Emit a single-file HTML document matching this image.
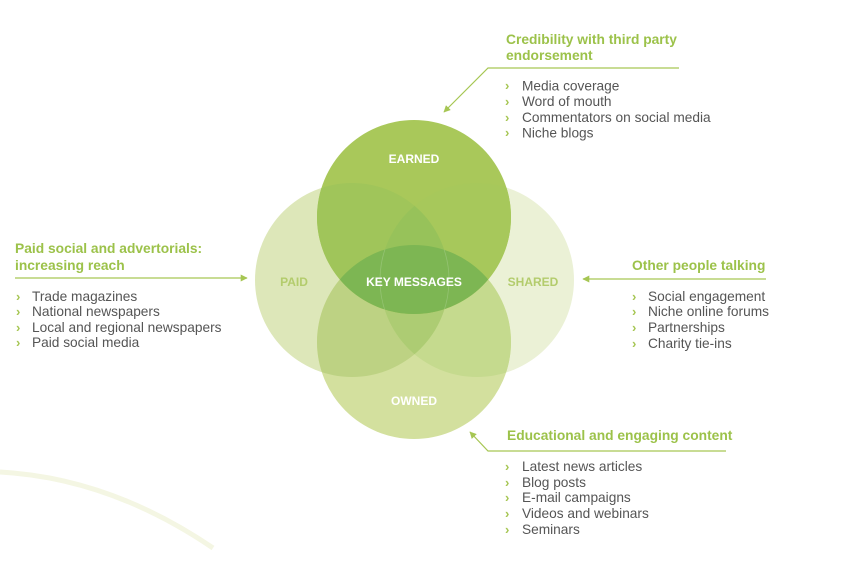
<!DOCTYPE html>
<html>
<head>
<meta charset="utf-8">
<style>
  html, body { margin:0; padding:0; background:#ffffff; }
  body { width:845px; height:573px; overflow:hidden; }
  svg { display:block; }
  .h { font-family:"Liberation Sans", sans-serif; font-weight:bold; font-size:13.8px; fill:#9cc24a; }
  .li { font-family:"Liberation Sans", sans-serif; font-size:13.7px; fill:#555555; }
  .bu { font-family:"Liberation Sans", sans-serif; font-size:13px; font-weight:bold; fill:#a6c653; }
  .lbl { font-family:"Liberation Sans", sans-serif; font-weight:bold; font-size:12px; fill:#ffffff; text-anchor:middle; }
  .lblg { font-family:"Liberation Sans", sans-serif; font-weight:bold; font-size:12px; fill:#b3cc6c; text-anchor:middle; }
</style>
</head>
<body>
<svg width="845" height="573" viewBox="0 0 845 573" xmlns="http://www.w3.org/2000/svg">
  <defs>
    <clipPath id="cE"><circle cx="414" cy="217" r="97"/></clipPath>
    <clipPath id="cP"><circle cx="352" cy="280" r="97"/></clipPath>
    <clipPath id="cS"><circle cx="477" cy="280" r="97"/></clipPath>
    <clipPath id="cO"><circle cx="414" cy="342" r="97"/></clipPath>
    <marker id="ah" viewBox="0 0 10 10" refX="9" refY="5" markerWidth="7" markerHeight="7" orient="auto" markerUnits="userSpaceOnUse">
      <path d="M0,0 L10,5 L0,10 Z" fill="#a6c653"/>
    </marker>
  </defs>

  <!-- decorative arc -->
  <path d="M0,472 Q110,478 213,548" fill="none" stroke="#f4f6e3" stroke-width="5" stroke-linecap="butt"/>

  <!-- base circles -->
  <circle cx="352" cy="280" r="97" fill="#dde7b9"/>
  <circle cx="477" cy="280" r="97" fill="#ebf1d6"/>
  <circle cx="414" cy="342" r="97" fill="#d3e09e"/>

  <!-- owned overlaps -->
  <g clip-path="url(#cO)">
    <circle cx="352" cy="280" r="97" fill="#bdd283"/>
    <circle cx="477" cy="280" r="97" fill="#c5da8e"/>
    <g clip-path="url(#cP)">
      <circle cx="477" cy="280" r="97" fill="#adcc73"/>
    </g>
  </g>

  <!-- earned -->
  <circle cx="414" cy="217" r="97" fill="#a9c85a"/>
  <g clip-path="url(#cE)">
    <circle cx="352" cy="280" r="97" fill="#a0c55a"/>
    <circle cx="477" cy="280" r="97" fill="#a7c85b"/>
    <g clip-path="url(#cP)">
      <circle cx="477" cy="280" r="97" fill="#97c25a"/>
    </g>
    <circle cx="414" cy="342" r="97" fill="#7db653"/>
    <g clip-path="url(#cO)">
      <circle cx="352" cy="280" r="97" fill="none" stroke="#ffffff" stroke-opacity="0.18" stroke-width="0.8"/>
      <circle cx="477" cy="280" r="97" fill="none" stroke="#ffffff" stroke-opacity="0.18" stroke-width="0.8"/>
    </g>
  </g>

  <!-- circle labels -->
  <text class="lbl" x="414" y="163">EARNED</text>
  <text class="lbl" x="414" y="286">KEY MESSAGES</text>
  <text class="lbl" x="414" y="405">OWNED</text>
  <text class="lblg" x="294" y="286">PAID</text>
  <text class="lblg" x="533" y="286">SHARED</text>

  <!-- connectors -->
  <polyline points="679,68 488,68 444,112" fill="none" stroke="#a6c653" stroke-width="1.2" marker-end="url(#ah)"/>
  <line x1="15" y1="278" x2="247" y2="278" stroke="#a6c653" stroke-width="1.2" marker-end="url(#ah)"/>
  <line x1="766" y1="279" x2="583" y2="279" stroke="#a6c653" stroke-width="1.2" marker-end="url(#ah)"/>
  <polyline points="726,451 488,451 470,432" fill="none" stroke="#a6c653" stroke-width="1.2" marker-end="url(#ah)"/>

  <!-- top block -->
  <text class="h" x="506" y="44">Credibility with third party</text>
  <text class="h" x="506" y="60">endorsement</text>
  <g>
    <text class="bu" x="505" y="90">›</text><text class="li" x="522" y="90.5">Media coverage</text>
    <text class="bu" x="505" y="106">›</text><text class="li" x="522" y="106">Word of mouth</text>
    <text class="bu" x="505" y="122">›</text><text class="li" x="522" y="122">Commentators on social media</text>
    <text class="bu" x="505" y="137">›</text><text class="li" x="522" y="137.5">Niche blogs</text>
  </g>

  <!-- left block -->
  <text class="h" x="15" y="253">Paid social and advertorials:</text>
  <text class="h" x="15" y="270">increasing reach</text>
  <g>
    <text class="bu" x="16" y="301">›</text><text class="li" x="32" y="301">Trade magazines</text>
    <text class="bu" x="16" y="316">›</text><text class="li" x="32" y="316">National newspapers</text>
    <text class="bu" x="16" y="332">›</text><text class="li" x="32" y="332">Local and regional newspapers</text>
    <text class="bu" x="16" y="347">›</text><text class="li" x="32" y="347">Paid social media</text>
  </g>

  <!-- right block -->
  <text class="h" x="632" y="270">Other people talking</text>
  <g>
    <text class="bu" x="632" y="301">›</text><text class="li" x="648" y="301">Social engagement</text>
    <text class="bu" x="632" y="316">›</text><text class="li" x="648" y="316">Niche online forums</text>
    <text class="bu" x="632" y="332">›</text><text class="li" x="648" y="332">Partnerships</text>
    <text class="bu" x="632" y="348">›</text><text class="li" x="648" y="348">Charity tie-ins</text>
  </g>

  <!-- bottom block -->
  <text class="h" x="507" y="440">Educational and engaging content</text>
  <g>
    <text class="bu" x="505" y="471">›</text><text class="li" x="522" y="471">Latest news articles</text>
    <text class="bu" x="505" y="487">›</text><text class="li" x="522" y="487">Blog posts</text>
    <text class="bu" x="505" y="502">›</text><text class="li" x="522" y="502">E-mail campaigns</text>
    <text class="bu" x="505" y="518">›</text><text class="li" x="522" y="518">Videos and webinars</text>
    <text class="bu" x="505" y="534">›</text><text class="li" x="522" y="534">Seminars</text>
  </g>
</svg>
</body>
</html>
